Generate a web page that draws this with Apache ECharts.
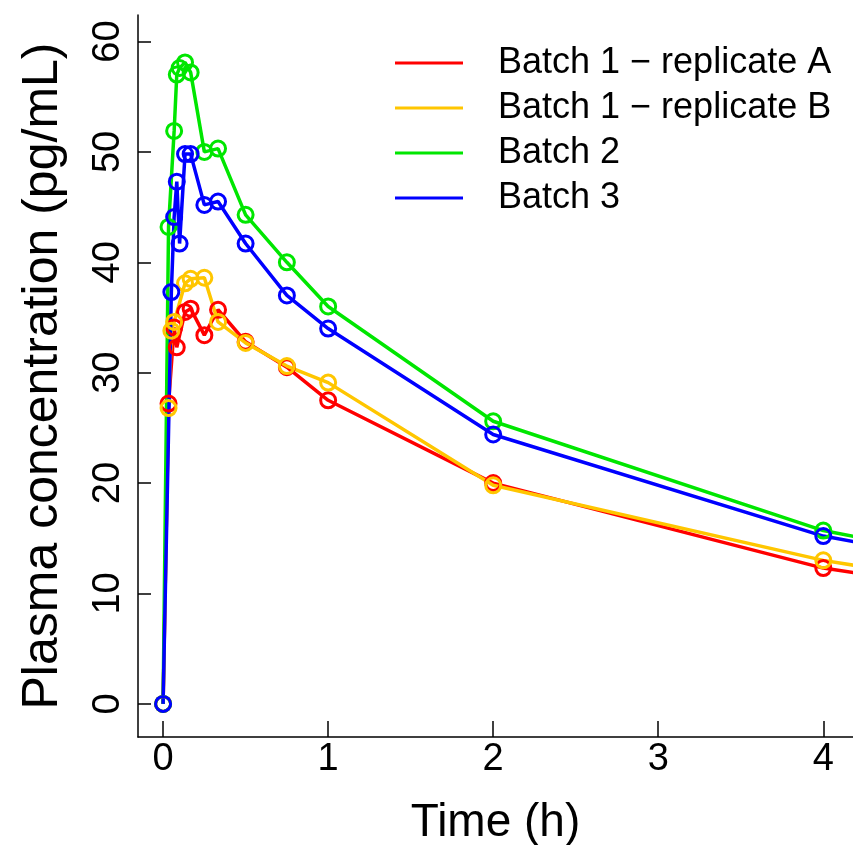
<!DOCTYPE html>
<html>
<head>
<meta charset="utf-8">
<script src="https://cdn.jsdelivr.net/npm/echarts@6/dist/echarts.min.js"></script>
<style>
    html, body {margin: 0; padding: 0; background: #fff;}
    #main {width: 853px; height: 845px;}
</style>
</head>
<body>
<div id="main"></div>
<script>
// 数据 (h, pg/mL)
var names = ['Batch 1 \u2212 replicate A', 'Batch 1 \u2212 replicate B', 'Batch 2', 'Batch 3'];
var colors = ['#FF0000', '#FFC600', '#00E600', '#0000FF'];

var timeA = [0, 0.033, 0.067, 0.083, 0.133, 0.167, 0.25, 0.333, 0.5, 0.75, 1, 2, 4, 6];
var concA = [0, 27.2, 34.1, 32.3, 35.5, 35.8, 33.4, 35.7, 32.8, 30.5, 27.5, 20.0, 12.3, 7.9];

var timeB = [0, 0.033, 0.05, 0.067, 0.133, 0.167, 0.25, 0.333, 0.5, 0.75, 1, 2, 4, 6];
var concB = [0, 26.8, 33.8, 34.6, 38.1, 38.5, 38.6, 34.6, 32.7, 30.6, 29.1, 19.8, 13.0, 8.2];

var time2 = [0, 0.033, 0.067, 0.083, 0.1, 0.133, 0.167, 0.25, 0.333, 0.5, 0.75, 1, 2, 4, 6];
var conc2 = [0, 43.2, 51.9, 57.0, 57.6, 58.1, 57.2, 50.0, 50.3, 44.3, 40.0, 36.0, 25.6, 15.7, 10.0];

var time3 = [0, 0.05, 0.067, 0.083, 0.1, 0.133, 0.167, 0.25, 0.333, 0.5, 0.75, 1, 2, 4, 6];
var conc3 = [0, 37.3, 44.1, 47.3, 41.7, 49.8, 49.8, 45.2, 45.5, 41.7, 37.0, 34.0, 24.4, 15.2, 9.8];

var xTicks = [0, 1, 2, 3, 4];
var yTicks = [0, 10, 20, 30, 40, 50, 60];

var allTimes = [timeA, timeB, time2, time3];
var allConc = [concA, concB, conc2, conc3];

var font = '"Liberation Sans", Arial, sans-serif';
var myChart = echarts.init(document.getElementById('main'));

function pairs(t, v) {
    var out = [];
    for (var i = 0; i < t.length; i++) {
        out.push([t[i], v[i]]);
    }
    return out;
}

var series = [];
for (var k = 0; k < names.length; k++) {
    series.push({
        name: names[k],
        type: 'line',
        data: pairs(allTimes[k], allConc[k]),
        symbol: 'circle',
        symbolSize: 15,
        showAllSymbol: true,
        color: colors[k],
        lineStyle: {color: colors[k], width: 3.5},
        itemStyle: {color: 'transparent', borderColor: colors[k], borderWidth: 3},
        emphasis: {disabled: true},
        animation: false
    });
}

option = {
    backgroundColor: '#fff',
    textStyle: {fontFamily: font},
    grid: {left: 138, right: 0, top: 15, bottom: 108, outerBoundsMode: 'none'},
    legend: {
        orient: 'vertical',
        left: 395,
        top: 45,
        padding: 0,
        icon: 'rect',
        itemWidth: 68,
        itemHeight: 3,
        itemGap: 9,
        textStyle: {fontFamily: font, fontSize: 36, color: '#000', lineHeight: 34, padding: [0, 0, 0, 30]},
        data: names.map(function (n, i) {
            return {name: n, itemStyle: {color: colors[i], borderWidth: 0}};
        })
    },
    xAxis: {
        type: 'value',
        min: -0.152,
        max: 4.18,
        name: 'Time (h)',
        nameLocation: 'middle',
        nameGap: 63,
        nameTextStyle: {fontFamily: font, fontSize: 46, color: '#000'},
        splitLine: {show: false},
        axisLine: {onZero: false, lineStyle: {color: '#000', width: 1.5}},
        axisTick: {inside: true, length: 16, lineStyle: {color: '#000', width: 1.5}, customValues: xTicks},
        axisLabel: {fontFamily: font, fontSize: 38, color: '#000', margin: 4, customValues: xTicks}
    },
    yAxis: {
        type: 'value',
        min: -3,
        max: 62.4,
        name: 'Plasma concentration (pg/mL)',
        nameLocation: 'middle',
        nameRotate: 90,
        nameGap: 70,
        nameTextStyle: {fontFamily: font, fontSize: 50, color: '#000'},
        splitLine: {show: false},
        axisLine: {show: true, onZero: false, lineStyle: {color: '#000', width: 1.5}},
        axisTick: {show: true, inside: true, length: 13, lineStyle: {color: '#000', width: 1.5}, customValues: yTicks},
        axisLabel: {fontFamily: font, fontSize: 38, color: '#000', rotate: 90, margin: 10, customValues: yTicks}
    },
    series: series
};

myChart.setOption(option);
</script>
</body>
</html>
